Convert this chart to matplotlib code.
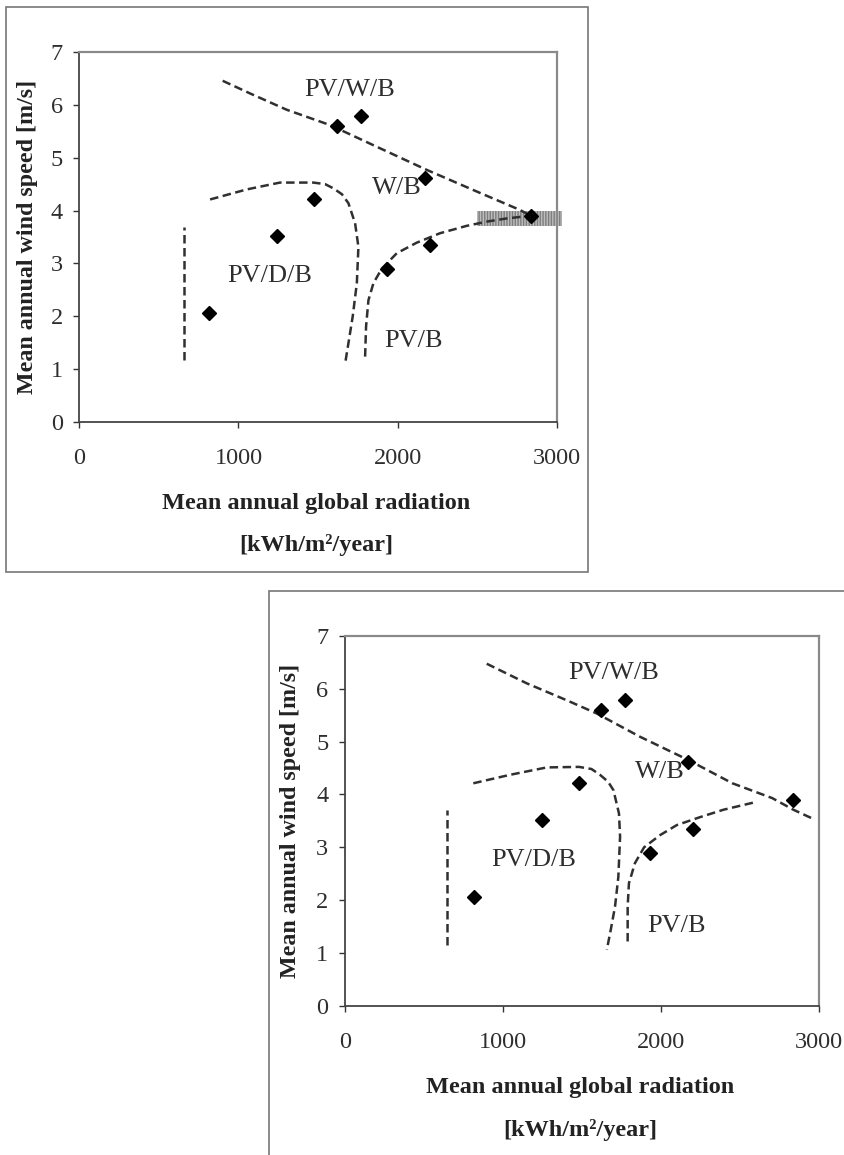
import matplotlib
matplotlib.use("Agg")
import matplotlib.pyplot as plt
from matplotlib.patches import Rectangle

# SITES (same in both panels)
site_rad = [815, 1245, 1478, 1620, 1772, 2174, 1932, 2205, 2836]
site_wind = [2.06, 3.51, 4.22, 5.60, 5.79, 4.62, 2.89, 3.35, 3.89]

# REGION LABELS
region_names = ["PV/W/B", "W/B", "PV/D/B", "PV/B"]
region_x = [1700, 1995, 1195, 2100]
region_y = [6.29, 4.42, 2.76, 1.52]

# BOUNDARIES - TOP PANEL
top_upper_x = [901, 1073, 1304, 1576, 1890, 2184, 2498, 2770, 2836]
top_upper_y = [6.46, 6.22, 5.91, 5.62, 5.18, 4.77, 4.36, 4.01, 3.90]
top_dgen_x = [822, 1052, 1261, 1471, 1545, 1597, 1650, 1691, 1733, 1754, 1744, 1718, 1691, 1670]
top_dgen_y = [4.21, 4.40, 4.53, 4.53, 4.50, 4.42, 4.31, 4.14, 3.76, 3.31, 2.62, 1.99, 1.48, 1.09]
top_pvb_x = [1796, 1802, 1817, 1848, 1901, 1995, 2120, 2267, 2435, 2561, 2686, 2833]
top_pvb_y = [1.23, 1.80, 2.30, 2.62, 2.90, 3.19, 3.39, 3.57, 3.71, 3.79, 3.85, 3.90]
top_vert_x = [658, 658]
top_vert_y = [1.17, 3.69]

# BOUNDARIES - BOTTOM PANEL
bot_upper_x = [897, 1150, 1403, 1593, 1867, 2173, 2452, 2704, 2838, 2954]
bot_upper_y = [6.47, 6.10, 5.78, 5.53, 5.09, 4.65, 4.21, 3.93, 3.71, 3.55]
bot_dgen_x = [812, 1044, 1277, 1481, 1560, 1614, 1665, 1699, 1734, 1741, 1730, 1709, 1682, 1657]
bot_dgen_y = [4.21, 4.37, 4.51, 4.52, 4.48, 4.37, 4.24, 4.08, 3.64, 3.20, 2.44, 1.88, 1.44, 1.06]
bot_pvb_x = [1789, 1789, 1797, 1835, 1893, 1994, 2100, 2247, 2395, 2606]
bot_pvb_y = [1.22, 1.88, 2.32, 2.70, 3.00, 3.23, 3.42, 3.57, 3.71, 3.86]
bot_vert_x = [643, 643]
bot_vert_y = [1.15, 3.71]

x_ticks = [0, 1000, 2000, 3000]
y_ticks = [0, 1, 2, 3, 4, 5, 6, 7]

plt.rcParams['font.family'] = ['Liberation Serif', 'DejaVu Serif']
plt.rcParams['hatch.linewidth'] = 1.0

W, H = 845, 1155
fig = plt.figure(figsize=(W / 100, H / 100), dpi=100)
dash = (0, (3.4, 1.8))
line_col = "#303030"
text_col = "#2e2e2e"


def px_axes(l, t, r, b):
    return fig.add_axes([l / W, 1 - b / H, (r - l) / W, (b - t) / H])


def setup(ax, lab_y):
    ax.set_xlim(0, 3000)
    ax.set_ylim(0, 7)
    ax.set_xticks(x_ticks)
    ax.set_yticks(y_ticks)
    ax.tick_params(axis='both', direction='out', length=4, width=1, color="#333333",
                   labelsize=17.5, labelcolor=text_col)
    ax.tick_params(axis='x', pad=15)
    ax.tick_params(axis='y', pad=8)
    for s in ['left', 'bottom']:
        ax.spines[s].set_color("#444444")
        ax.spines[s].set_linewidth(1.3)
    for s in ['top', 'right']:
        ax.spines[s].set_color("#8a8a8a")
        ax.spines[s].set_linewidth(1.6)
    ax.set_ylabel("Mean annual wind speed [m/s]", fontsize=17.3, fontweight='bold', color="#222222")
    ax.yaxis.set_label_coords(lab_y, 0.5)
    ax.text(0.497, -0.221, "Mean annual global radiation", transform=ax.transAxes,
            ha='center', va='center', fontsize=17.5, fontweight='bold', color="#222222")
    ax.text(0.497, -0.335, "[kWh/m²/year]", transform=ax.transAxes,
            ha='center', va='center', fontsize=17.5, fontweight='bold', color="#222222")
    for name, x, y in zip(region_names, region_x, region_y):
        ax.text(x, y, name, ha='center', va='center', fontsize=19, color=text_col)


def draw(ax, curves):
    for cx, cy in curves:
        ax.plot(cx, cy, linestyle=dash, color=line_col, lw=1.8, clip_on=False, zorder=3)
    ax.plot(site_rad, site_wind, linestyle='none', marker='D', ms=6.8, color='black',
            mec='black', zorder=4)


# TOP PANEL
fig.add_artist(Rectangle((6.5 / W, 1 - 572 / H), (588 - 6.5) / W, (572 - 7) / H,
                         transform=fig.transFigure, fill=False, ec="#777777", lw=1.2))
ax1 = px_axes(79.3, 52.3, 556.7, 421.5)
setup(ax1, -0.087)
ax1.add_patch(Rectangle((2497, 3.70), 538, 0.29, facecolor="#bdbdbd", edgecolor="#7e7e7e",
                        hatch="||||||", lw=0, clip_on=False, zorder=2))
draw(ax1, [(top_upper_x, top_upper_y), (top_dgen_x, top_dgen_y),
           (top_pvb_x, top_pvb_y), (top_vert_x, top_vert_y)])

# BOTTOM PANEL
fig.add_artist(Rectangle((269 / W, -0.01), 1.0, 1 - 591.5 / H + 0.01,
                         transform=fig.transFigure, fill=False, ec="#777777", lw=1.2))
ax2 = px_axes(345, 635.7, 819, 1006)
setup(ax2, -0.092)
draw(ax2, [(bot_upper_x, bot_upper_y), (bot_dgen_x, bot_dgen_y),
           (bot_pvb_x, bot_pvb_y), (bot_vert_x, bot_vert_y)])

fig.savefig("out.png", dpi=100, facecolor='white')
